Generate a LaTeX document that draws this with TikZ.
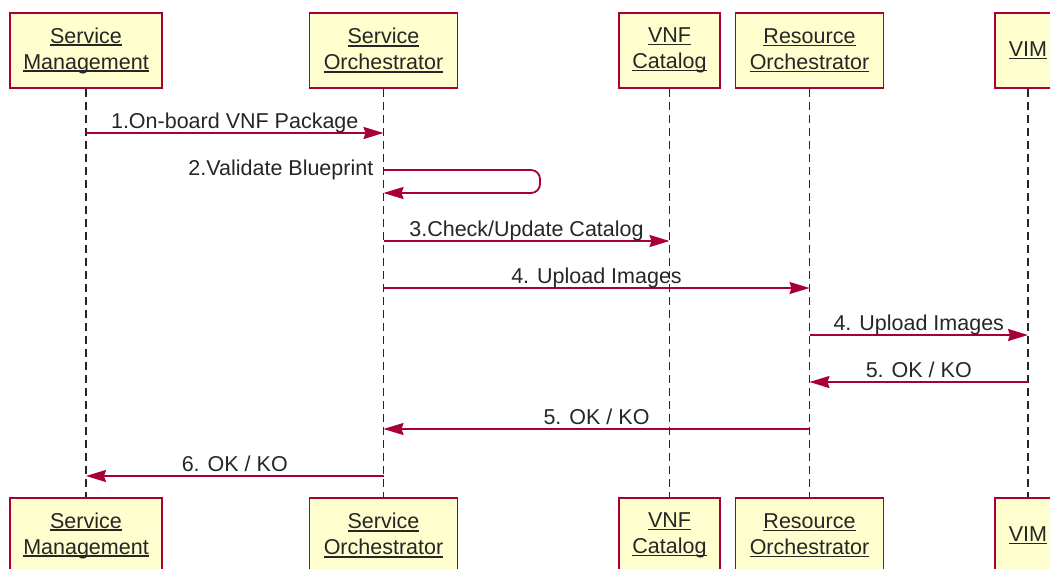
\documentclass[tikz,border=0pt]{standalone}
\usepackage{fontspec}
\setmainfont{Liberation Sans}
\usetikzlibrary{arrows.meta}
\definecolor{boxfill}{HTML}{FEFECE}
\definecolor{boxline}{HTML}{A80036}
\newcommand\myul[1]{\setbox0\hbox{#1}\rlap{\rule[-2.6pt]{\wd0}{1.3pt}}\box0}
\tikzset{
  pbox/.style={draw=boxline, fill=boxfill, line width=1.6pt, align=center,
    minimum height=75pt, inner sep=0pt,
    font=\fontsize{21.5}{26}\selectfont, text=black!85},
  lifeline/.style={draw=black!85, line width=1.8pt, dash pattern=on 8.5pt off 4.5pt},
  msg/.style={draw=boxline, line width=1.8pt, -{Stealth[length=20pt,width=12pt,inset=2pt]}},
  lbl/.style={font=\fontsize{21.5}{26}\selectfont, text=black!85, inner sep=0pt}
}
\begin{document}
\begin{tikzpicture}[x=1pt,y=-1pt]
\useasboundingbox (0,0) rectangle (1050,568);
\clip (0,0) rectangle (1050,568);
% participants top
\node[pbox, minimum width=152pt] (smT) at (86,50.5) {\myul{Service}\\\myul{Management}};
\node[pbox, minimum width=148pt] (soT) at (383.5,50.5) {\myul{Service}\\\myul{Orchestrator}};
\node[pbox, minimum width=101pt] (vcT) at (669.5,50.5) {\myul{VNF}\\\myul{Catalog}};
\node[pbox, minimum width=148pt] (roT) at (809.5,50.5) {\myul{Resource}\\\myul{Orchestrator}};
\node[pbox, minimum width=66pt] (vimT) at (1028,50.5) {\myul{VIM}};
% participants bottom
\node[pbox, minimum width=152pt] (smB) at (86,535.5) {\myul{Service}\\\myul{Management}};
\node[pbox, minimum width=148pt] (soB) at (383.5,535.5) {\myul{Service}\\\myul{Orchestrator}};
\node[pbox, minimum width=101pt] (vcB) at (669.5,535.5) {\myul{VNF}\\\myul{Catalog}};
\node[pbox, minimum width=148pt] (roB) at (809.5,535.5) {\myul{Resource}\\\myul{Orchestrator}};
\node[pbox, minimum width=66pt] (vimB) at (1028,535.5) {\myul{VIM}};
% lifelines
\draw[lifeline] (smT.south) -- (smB.north);
\draw[lifeline] (soT.south) -- (soB.north);
\draw[lifeline] (vcT.south) -- (vcB.north);
\draw[lifeline] (roT.south) -- (roB.north);
\draw[lifeline] (vimT.south) -- (vimB.north);
% message levels
\coordinate (m1) at (0,133);
\coordinate (m2a) at (0,170);
\coordinate (m2b) at (0,193);
\coordinate (m2r) at (540,0);
\coordinate (m3) at (0,241);
\coordinate (m4) at (0,288);
\coordinate (m5) at (0,335);
\coordinate (m6) at (0,382);
\coordinate (m7) at (0,429);
\coordinate (m8) at (0,476);
% messages
\draw[msg] (smT |- m1) -- (soT |- m1) node[lbl, midway, anchor=base, yshift=4.5pt] {1.On-board VNF Package};
\draw[msg, rounded corners=9pt] (soT |- m2a) -- (m2r |- m2a) -- (m2r |- m2b) -- (soT |- m2b);
\node[lbl, anchor=base east] (l2) at ([xshift=-10pt,yshift=-5pt]soT |- m2a) {2.Validate Blueprint};
\draw[msg] (soT |- m3) -- (vcT |- m3) node[lbl, midway, anchor=base, yshift=4.5pt] {3.Check/Update Catalog};
\draw[msg] (soT |- m4) -- (roT |- m4) node[lbl, midway, anchor=base, yshift=4.5pt] {4. Upload Images};
\draw[msg] (roT |- m5) -- (vimT |- m5) node[lbl, midway, anchor=base, yshift=4.5pt] {4. Upload Images};
\draw[msg] (vimT |- m6) -- (roT |- m6) node[lbl, midway, anchor=base, yshift=4.5pt] {5. OK / KO};
\draw[msg] (roT |- m7) -- (soT |- m7) node[lbl, midway, anchor=base, yshift=4.5pt] {5. OK / KO};
\draw[msg] (soT |- m8) -- (smT |- m8) node[lbl, midway, anchor=base, yshift=4.5pt] {6. OK / KO};
\end{tikzpicture}
\end{document}
